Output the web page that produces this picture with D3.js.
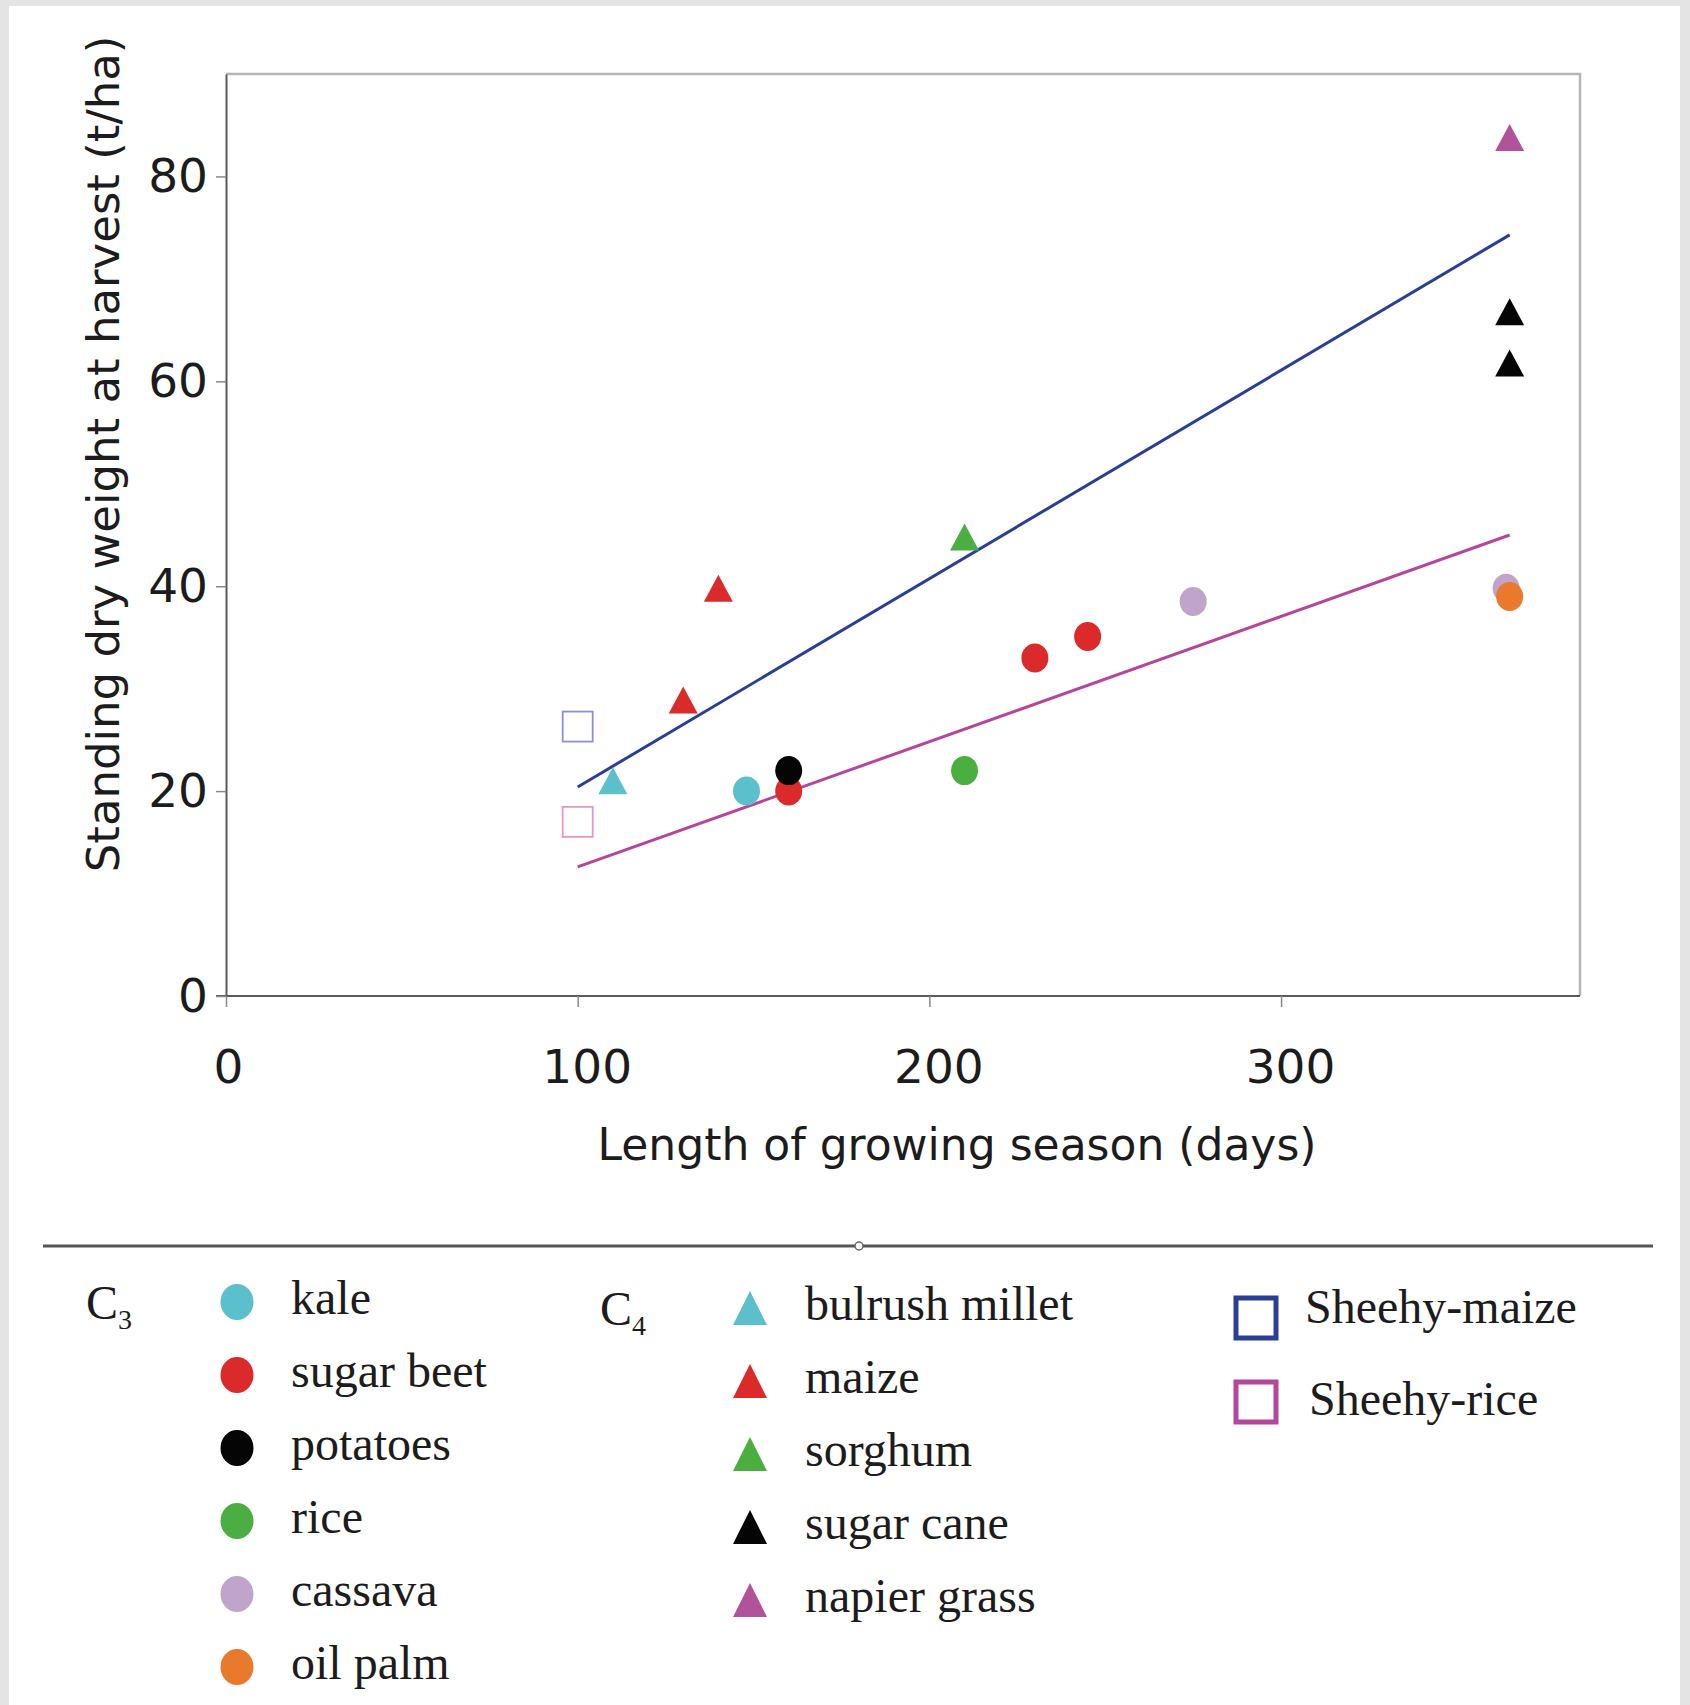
<!DOCTYPE html>
<html>
<head>
<meta charset="utf-8">
<script src="https://cdn.jsdelivr.net/npm/d3@7"></script>
<style>
  body { margin: 0; background: #e4e4e4; }
  svg { display: block; }
</style>
</head>
<body>
<div id="chart"></div>
<script>
// Data: days of growing season vs standing dry weight (t/ha)
const c3Crops   = ["kale", "sugar beet", "potatoes", "rice", "cassava", "oil palm"];
const c3Colors  = ["#5bc0cb", "#da2a2a", "#050505", "#4bae40", "#c1a4c9", "#e8792d"];
const c4Crops   = ["bulrush millet", "maize", "sorghum", "sugar cane", "napier grass"];
const c4Colors  = ["#5bc0cb", "#da2a2a", "#4bae40", "#050505", "#b2529b"];
const sheehyNames  = ["Sheehy-maize", "Sheehy-rice"];
const sheehyColors = ["#2a3f94", "#b4479c"];
const sheehyLight  = ["#8e8ed6", "#e596c6"];

// [crop, days, t/ha]
const c3Points = [
    ["cassava", 364, 39.8],
    ["kale", 148, 20.0],
    ["sugar beet", 160, 20.0],
    ["sugar beet", 230, 33.0],
    ["sugar beet", 245, 35.1],
    ["potatoes", 160, 22.0],
    ["rice", 210, 22.0],
    ["cassava", 275, 38.5],
    ["oil palm", 365, 39.0]
];
const c4Points = [
    ["bulrush millet", 110, 21.0],
    ["maize", 130, 28.9],
    ["maize", 140, 39.8],
    ["sorghum", 210, 44.8],
    ["sugar cane", 365, 66.8],
    ["sugar cane", 365, 61.8],
    ["napier grass", 365, 83.8]
];
const sheehyPoints = [
    ["Sheehy-maize", 100, 26.3],
    ["Sheehy-rice", 100, 17.0]
];

// Fitted lines (start and end of season)
const trendDays  = [100, 365];
const trendMaize = [20.4, 74.3];
const trendRice  = [12.6, 45.0];

const xTicks = [0, 100, 200, 300];
const yTicks = [0, 20, 40, 60, 80];

// Size of the page and plot area
const W = 1690, H = 1705;
const plot = { left: 226, right: 1580, top: 74, bottom: 996 };

const svg = d3.select("#chart")
    .append("svg")
    .attr("width", W)
    .attr("height", H);

// White panel inside light grey border
svg.append("rect")
    .attr("x", 9).attr("y", 6)
    .attr("width", 1671).attr("height", H - 6)
    .attr("fill", "#ffffff");

const x = d3.scaleLinear().domain([0, 385]).range([plot.left, plot.right]);
const y = d3.scaleLinear().domain([0, 90]).range([plot.bottom, plot.top]);

const c3Color = d3.scaleOrdinal().domain(c3Crops).range(c3Colors);
const c4Color = d3.scaleOrdinal().domain(c4Crops).range(c4Colors);

// Light top and right frame
svg.append("path")
    .attr("d", `M${plot.left},${plot.top}H${plot.right}V${plot.bottom}`)
    .attr("fill", "none")
    .attr("stroke", "#b5b5b5")
    .attr("stroke-width", 2.5);

// Axes
const xAxis = svg.append("g")
    .attr("transform", `translate(0,${plot.bottom})`)
    .call(d3.axisBottom(x).tickValues(xTicks).tickSize(11).tickPadding(43).tickSizeOuter(0));

const yAxis = svg.append("g")
    .attr("transform", `translate(${plot.left},0)`)
    .call(d3.axisLeft(y).tickValues(yTicks).tickSize(10).tickPadding(8).tickSizeOuter(0));

[xAxis, yAxis].forEach(g => {
    g.select(".domain").attr("stroke", "#5a5a5a").attr("stroke-width", 2);
    g.selectAll(".tick line").attr("stroke", "#888").attr("stroke-width", 1.5);
    g.selectAll(".tick text")
        .attr("fill", "#1c1c1c")
        .style("font-family", "DejaVu Sans, sans-serif")
        .style("font-size", "47px");
});
// the reference font sets "100", "200", "300" a little right of the tick
xAxis.selectAll(".tick text").attr("dx", d => d > 0 ? 9 : 2);
// x axis line runs a little past the y axis
xAxis.select(".domain").attr("d", `M${plot.left - 10},0H${plot.right}`);

// Axis titles
svg.append("text")
    .attr("x", 880 * 1.0875)
    .attr("y", 1160)
    .attr("text-anchor", "middle")
    .attr("fill", "#1c1c1c")
    .style("font-family", "DejaVu Sans, sans-serif")
    .style("font-size", "44px")
    .text("Length of growing season (days)");

svg.append("text")
    .attr("transform", "rotate(-90)")
    .attr("x", -454)
    .attr("y", 119)
    .attr("text-anchor", "middle")
    .attr("fill", "#1c1c1c")
    .style("font-family", "DejaVu Sans, sans-serif")
    .style("font-size", "45px")
    .text("Standing dry weight at harvest (t/ha)");

// Trend lines
const line = d3.line()
    .x(d => x(d[0]))
    .y(d => y(d[1]));

svg.append("path")
    .datum(d3.zip(trendDays, trendMaize))
    .attr("fill", "none")
    .attr("stroke", sheehyColors[0])
    .attr("stroke-width", 3)
    .attr("d", line);

svg.append("path")
    .datum(d3.zip(trendDays, trendRice))
    .attr("fill", "none")
    .attr("stroke", sheehyColors[1])
    .attr("stroke-width", 3)
    .attr("d", line);

// Triangle path centred on 0,0
const triangle = (w, h) => `M0,${-h / 2}L${w / 2},${h / 2}L${-w / 2},${h / 2}Z`;

// Sheehy open squares
svg.selectAll(".sheehy")
    .data(sheehyPoints)
    .enter()
    .append("rect")
    .attr("x", d => x(d[1]) - 15)
    .attr("y", d => y(d[2]) - 15)
    .attr("width", 30)
    .attr("height", 30)
    .attr("fill", "none")
    .attr("stroke", d => sheehyLight[sheehyNames.indexOf(d[0])])
    .attr("stroke-width", 1.8);

// C3 circles
svg.selectAll(".c3")
    .data(c3Points)
    .enter()
    .append("ellipse")
    .attr("cx", d => x(d[1]))
    .attr("cy", d => y(d[2]))
    .attr("rx", 13.5)
    .attr("ry", 14.5)
    .attr("fill", d => c3Color(d[0]));

// C4 triangles
svg.selectAll(".c4")
    .data(c4Points)
    .enter()
    .append("path")
    .attr("transform", d => `translate(${x(d[1])},${y(d[2])})`)
    .attr("d", triangle(29, 27))
    .attr("fill", d => c4Color(d[0]));

// ---- Legend ----
const serif = "Liberation Serif, Times New Roman, serif";

svg.append("line")
    .attr("x1", 43).attr("x2", 1653)
    .attr("y1", 1246).attr("y2", 1246)
    .attr("stroke", "#555")
    .attr("stroke-width", 3);
svg.append("circle")
    .attr("cx", 859).attr("cy", 1246).attr("r", 4)
    .attr("fill", "#fff")
    .attr("stroke", "#666")
    .attr("stroke-width", 1.5);

function groupLabel(xPos, yPos, sub) {
    const t = svg.append("text")
        .attr("x", xPos)
        .attr("y", yPos)
        .attr("fill", "#1c1c1c")
        .style("font-family", serif)
        .style("font-size", "48px");
    t.append("tspan").text("C");
    t.append("tspan")
        .attr("dy", 10)
        .style("font-size", "28px")
        .text(sub);
}
groupLabel(86, 1319, "3");
groupLabel(600, 1325, "4");

const rowGap = 73;

const c3Legend = svg.append("g");
c3Crops.forEach((crop, i) => {
    const cy = 1302 + i * rowGap;
    c3Legend.append("ellipse")
        .attr("cx", 237).attr("cy", cy)
        .attr("rx", 16.5).attr("ry", 18)
        .attr("fill", c3Color(crop));
    c3Legend.append("text")
        .attr("x", 291).attr("y", cy + 12)
        .attr("fill", "#1c1c1c")
        .style("font-family", serif)
        .style("font-size", "48px")
        .text(crop);
});

const c4Legend = svg.append("g");
c4Crops.forEach((crop, i) => {
    const cy = 1308 + i * rowGap;
    c4Legend.append("path")
        .attr("transform", `translate(750,${cy})`)
        .attr("d", triangle(34, 34))
        .attr("fill", c4Color(crop));
    c4Legend.append("text")
        .attr("x", 805).attr("y", cy + 12)
        .attr("fill", "#1c1c1c")
        .style("font-family", serif)
        .style("font-size", "48px")
        .text(crop);
});

const sheehyLegend = svg.append("g");
sheehyNames.forEach((name, i) => {
    const cy = 1318 + i * 84;
    sheehyLegend.append("rect")
        .attr("x", 1236).attr("y", cy - 20)
        .attr("width", 40).attr("height", 40)
        .attr("fill", "none")
        .attr("stroke", sheehyColors[i])
        .attr("stroke-width", 5);
    sheehyLegend.append("text")
        .attr("x", 1305 + i * 4).attr("y", cy + 5 + i * 8)
        .attr("fill", "#1c1c1c")
        .style("font-family", serif)
        .style("font-size", "48px")
        .text(name);
});
</script>
</body>
</html>
